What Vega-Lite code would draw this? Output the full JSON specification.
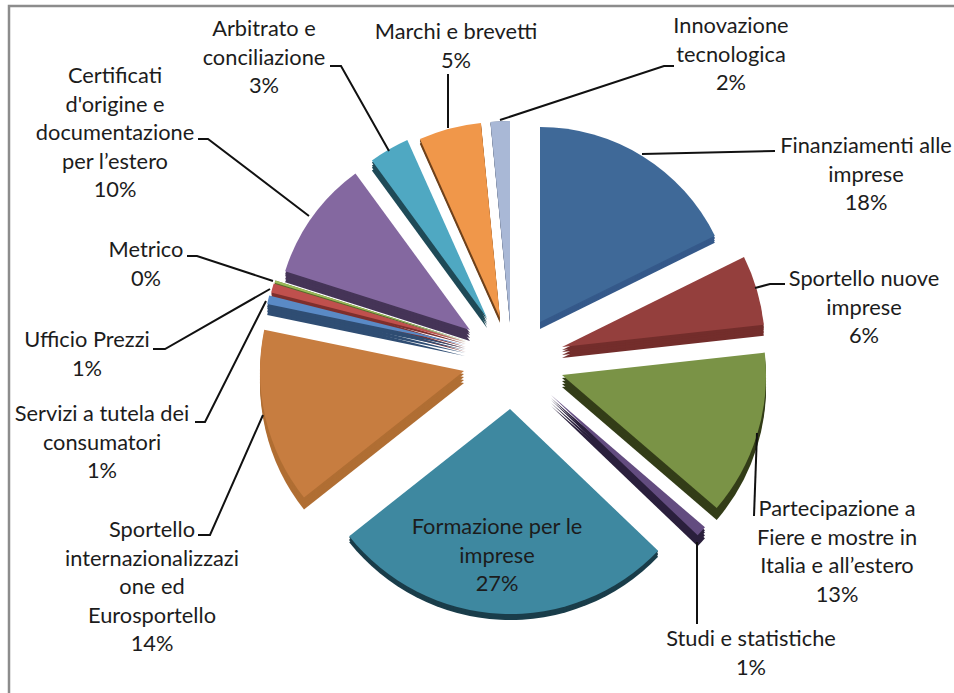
{"$schema":"https://vega.github.io/schema/vega-lite/v6.json","width":954,"height":693,"padding":0,"autosize":{"type":"none"},"background":"white","config":{"view":{"stroke":null}},
"datasets":{
"slices":[
{"order":1,"name":"Finanziamenti alle imprese","share":17.7,"cx":540,"cy":322,"y1":324,"y2":325,"y3":327,"base":329,"r":195},
{"order":2,"name":"Sportello nuove imprese","share":5.55,"cx":562,"cy":347,"y1":350,"y2":352,"y3":355,"base":358,"r":203},
{"order":3,"name":"Partecipazione a Fiere e mostre in Italia e all'estero","share":13.05,"cx":562,"cy":375,"y1":378,"y2":381,"y3":384,"base":387,"r":204},
{"order":4,"name":"Studi e statistiche","share":0.85,"cx":551,"cy":395,"y1":398,"y2":400,"y3":403,"base":406,"r":203},
{"order":5,"name":"Formazione per le imprese","share":27.2,"cx":510,"cy":409,"y1":410,"y2":412,"y3":413,"base":415,"r":205},
{"order":6,"name":"Sportello internazionalizzazione ed Eurosportello","share":13.9,"cx":464,"cy":371,"y1":374,"y2":377,"y3":380,"base":383,"r":204},
{"order":7,"name":"Servizi a tutela dei consumatori","share":0.7,"cx":465,"cy":345,"y1":348,"y2":350,"y3":353,"base":356,"r":202},
{"order":8,"name":"Ufficio Prezzi","share":0.75,"cx":466,"cy":342,"y1":344,"y2":347,"y3":349,"base":352,"r":201},
{"order":9,"name":"Metrico","share":0.2,"cx":466,"cy":341,"y1":341,"y2":342,"y3":342,"base":343,"r":200},
{"order":10,"name":"Certificati d'origine e documentazione per l'estero","share":10.05,"cx":470,"cy":330,"y1":333,"y2":335,"y3":338,"base":341,"r":194},
{"order":11,"name":"Arbitrato e conciliazione","share":3.35,"cx":487,"cy":318,"y1":320,"y2":323,"y3":325,"base":328,"r":195},
{"order":12,"name":"Marchi e brevetti","share":5.15,"cx":500,"cy":318,"y1":319,"y2":320,"y3":322,"base":323,"r":196},
{"order":13,"name":"Innovazione tecnologica","share":1.55,"cx":510,"cy":321,"y1":321,"y2":322,"y3":322,"base":323,"r":200}
],
"labels":[
{"text":"Finanziamenti alle\nimprese\n18%","x":866,"y":153},
{"text":"Sportello nuove\nimprese\n6%","x":864,"y":286},
{"text":"Partecipazione a\nFiere e mostre in\nItalia e all’estero\n13%","x":837,"y":516},
{"text":"Studi e statistiche\n1%","x":751,"y":646},
{"text":"Formazione per le\nimprese\n27%","x":497,"y":534},
{"text":"Sportello\ninternazionalizzazi\none ed\nEurosportello\n14%","x":152,"y":537},
{"text":"Servizi a tutela dei\nconsumatori\n1%","x":102,"y":421},
{"text":"Ufficio Prezzi\n1%","x":87,"y":347},
{"text":"Metrico\n0%","x":146,"y":257},
{"text":"Certificati\nd'origine e\ndocumentazione\nper l’estero\n10%","x":115,"y":83},
{"text":"Arbitrato e\nconciliazione\n3%","x":264,"y":36},
{"text":"Marchi e brevetti\n5%","x":456,"y":39},
{"text":"Innovazione\ntecnologica\n2%","x":731,"y":33}
],
"leaders":[
{"id":"a","i":1,"x":330,"y":66},{"id":"a","i":2,"x":341,"y":66},{"id":"a","i":3,"x":389,"y":151},
{"id":"c","i":1,"x":198,"y":139},{"id":"c","i":2,"x":208,"y":139},{"id":"c","i":3,"x":309,"y":216},
{"id":"m","i":1,"x":448,"y":74},{"id":"m","i":2,"x":448,"y":128},
{"id":"n","i":1,"x":674,"y":66},{"id":"n","i":2,"x":664,"y":66},{"id":"n","i":3,"x":500,"y":120},
{"id":"f","i":1,"x":775,"y":151},{"id":"f","i":2,"x":642,"y":154},
{"id":"s","i":1,"x":785,"y":284},{"id":"s","i":2,"x":770,"y":284},{"id":"s","i":3,"x":755,"y":288},
{"id":"p","i":1,"x":757,"y":433},{"id":"p","i":2,"x":754,"y":516},
{"id":"t","i":1,"x":697,"y":542},{"id":"t","i":2,"x":697,"y":624},
{"id":"e","i":1,"x":187,"y":256},{"id":"e","i":2,"x":197,"y":256},{"id":"e","i":3,"x":273,"y":281},
{"id":"u","i":1,"x":153,"y":349},{"id":"u","i":2,"x":165,"y":349},{"id":"u","i":3,"x":270,"y":289},
{"id":"v","i":1,"x":195,"y":422},{"id":"v","i":2,"x":205,"y":422},{"id":"v","i":3,"x":266,"y":301},
{"id":"z","i":1,"x":198,"y":535},{"id":"z","i":2,"x":210,"y":535},{"id":"z","i":3,"x":263,"y":415}
],
"frame":[{"i":1,"x":954,"y":6},{"i":2,"x":9,"y":6},{"i":3,"x":9,"y":693}]
},
"layer":[
{"data":{"name":"frame"},"mark":{"type":"line","stroke":"#8c8c8c","strokeWidth":2.5},"encoding":{"x":{"field":"x","type":"quantitative","scale":{"domain":[0,954],"range":[0,954]},"axis":null},"y":{"field":"y","type":"quantitative","scale":{"domain":[0,693],"range":[0,693]},"axis":null},"order":{"field":"i"}}},
{"data":{"name":"slices"},"transform":[{"stack":"share","sort":[{"field":"order","order":"ascending"}],"groupby":[],"as":["t0","t1"]}],
"encoding":{"x":{"field":"cx","type":"quantitative","scale":{"domain":[0,954],"range":[0,954]},"axis":null},"theta":{"field":"t0","type":"quantitative","stack":null,"scale":{"domain":[0,100],"range":[0,6.28319]}},"theta2":{"field":"t1"},"radius":{"field":"r","type":"quantitative","scale":null}},
"layer":[
{"mark":{"type":"arc"},"encoding":{"y":{"field":"base","type":"quantitative","scale":{"domain":[0,693],"range":[0,693]},"axis":null},"fill":{"field":"order","type":"nominal","legend":null,"scale":{"domain":[1,2,3,4,5,6,7,8,9,10,11,12,13],"range":["#35598a","#732d2b","#333d18","#2a1f3c","#1a3d4a","#b06e33","#2f4d73","#7e2f2d","#556b2c","#453457","#1f4a57","#6f421c","#6e7a90"]}}}},
{"mark":{"type":"arc"},"encoding":{"y":{"field":"y3","type":"quantitative","scale":{"domain":[0,693],"range":[0,693]},"axis":null},"fill":{"field":"order","type":"nominal","legend":null}}},
{"mark":{"type":"arc"},"encoding":{"y":{"field":"y2","type":"quantitative","scale":{"domain":[0,693],"range":[0,693]},"axis":null},"fill":{"field":"order","type":"nominal","legend":null}}},
{"mark":{"type":"arc"},"encoding":{"y":{"field":"y1","type":"quantitative","scale":{"domain":[0,693],"range":[0,693]},"axis":null},"fill":{"field":"order","type":"nominal","legend":null}}},
{"mark":{"type":"arc"},"encoding":{"y":{"field":"cy","type":"quantitative","scale":{"domain":[0,693],"range":[0,693]},"axis":null},"color":{"field":"name","type":"nominal","legend":null,"sort":null,"scale":{"domain":["Finanziamenti alle imprese","Sportello nuove imprese","Partecipazione a Fiere e mostre in Italia e all'estero","Studi e statistiche","Formazione per le imprese","Sportello internazionalizzazione ed Eurosportello","Servizi a tutela dei consumatori","Ufficio Prezzi","Metrico","Certificati d'origine e documentazione per l'estero","Arbitrato e conciliazione","Marchi e brevetti","Innovazione tecnologica"],"range":["#3f6998","#943f3d","#7a9346","#634c80","#3e88a0","#c77d40","#5a8ac6","#c0504d","#9bbb59","#8468a0","#4fa8c2","#f0974a","#a9b8d6"]}}}}
]},
{"data":{"name":"leaders"},"mark":{"type":"line","stroke":"#111111","strokeWidth":2},"encoding":{"x":{"field":"x","type":"quantitative","scale":{"domain":[0,954],"range":[0,954]},"axis":null},"y":{"field":"y","type":"quantitative","scale":{"domain":[0,693],"range":[0,693]},"axis":null},"detail":{"field":"id"},"order":{"field":"i"}}},
{"data":{"name":"labels"},"mark":{"type":"text","font":"Lato","fontSize":21.8,"align":"center","baseline":"alphabetic","lineBreak":"\n","lineHeight":28.5,"fill":"#1c1c1c"},"encoding":{"x":{"field":"x","type":"quantitative","scale":{"domain":[0,954],"range":[0,954]},"axis":null},"y":{"field":"y","type":"quantitative","scale":{"domain":[0,693],"range":[0,693]},"axis":null},"text":{"field":"text"}}}
]}
